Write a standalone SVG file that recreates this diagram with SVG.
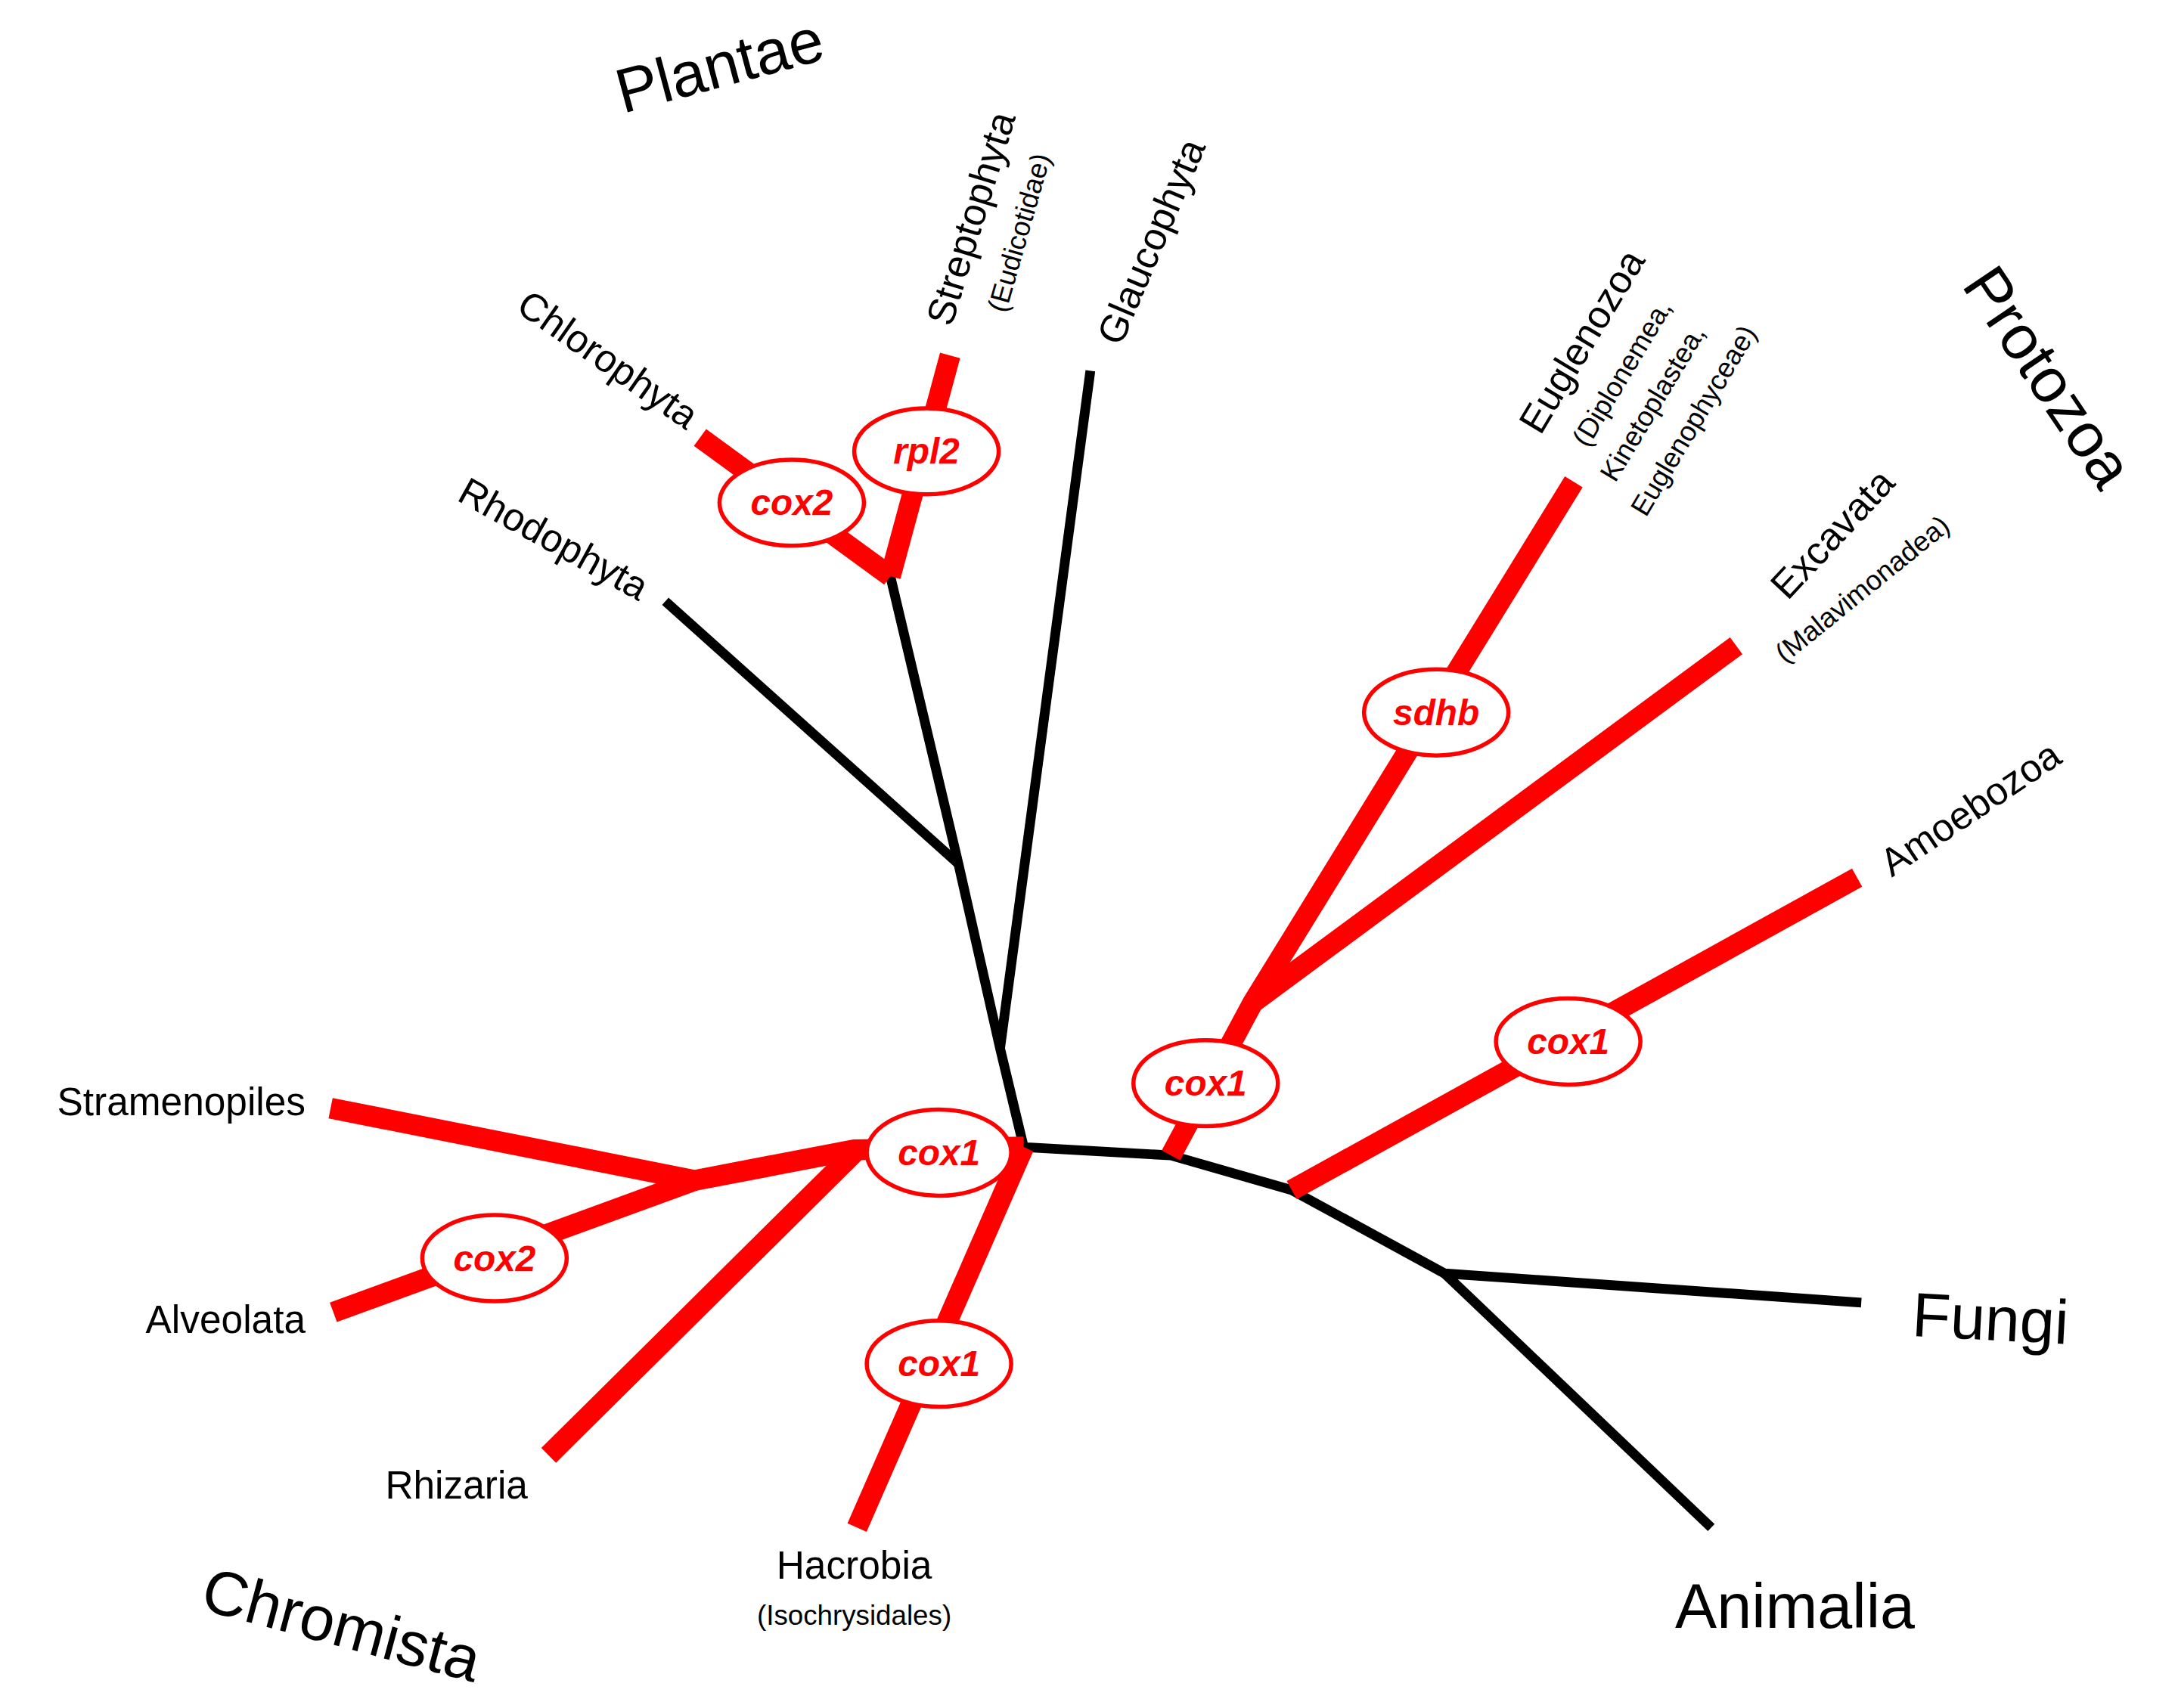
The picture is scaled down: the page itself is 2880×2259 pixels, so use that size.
<svg xmlns="http://www.w3.org/2000/svg" width="2880" height="2259" viewBox="0 0 2880 2259">
<style>
.k{stroke:#000;stroke-width:7;fill:none;stroke-linejoin:round}
.r{stroke:#f00;stroke-width:15;fill:none;stroke-linejoin:round}
.e{fill:#fff;stroke:#f00;stroke-width:3}
.g{font-family:"Liberation Sans",Arial,sans-serif;font-weight:bold;font-style:italic;font-size:26px;fill:#f00;text-anchor:middle}
.t{font-family:"Liberation Sans",Arial,sans-serif;fill:#000;font-size:28px}
.s{font-family:"Liberation Sans",Arial,sans-serif;fill:#000;font-size:20px}
.b{font-family:"Liberation Sans",Arial,sans-serif;fill:#000;font-size:45px}
</style>
<rect width="2880" height="2259" fill="#fff"/>
<g transform="scale(1.8367)">
<g id="connectors">
<polyline class="k" points="479,433 690,622"/>
<polyline class="k" points="641,415 690,622 720,755 737,826 843,832 930,857 1040,917 1340,938"/>
<polyline class="k" points="785,267 720,755"/>
<polyline class="k" points="1040,917 1232,1100"/>
<polyline class="r" points="684,256 641,415"/>
<polyline class="r" stroke-width="12" points="504,315 641,415"/>
<polyline class="r" points="843,832 902,722 1133,347"/>
<polyline class="r" points="902,722 1250,465"/>
<polyline class="r" points="930,857 1337,632"/>
<polyline class="r" points="238,798 500,850 615,828 737,826"/>
<polyline class="r" points="240,945 500,850"/>
<polyline class="r" points="395,1048 615,830"/>
<polyline class="r" points="737,826 617,1100"/>
</g>
<g id="m-rpl2"><ellipse class="e" cx="667" cy="325" rx="52" ry="31"/><text class="g" x="667" y="334">rpl2</text></g>
<g id="m-cox2a"><ellipse class="e" cx="570" cy="362" rx="52" ry="31"/><text class="g" x="570" y="371">cox2</text></g>
<g id="m-sdhb"><ellipse class="e" cx="1034" cy="513" rx="52" ry="31"/><text class="g" x="1034" y="522">sdhb</text></g>
<g id="m-cox1a"><ellipse class="e" cx="868" cy="780" rx="52" ry="31"/><text class="g" x="868" y="789">cox1</text></g>
<g id="m-cox1b"><ellipse class="e" cx="1129" cy="750" rx="52" ry="31"/><text class="g" x="1129" y="759">cox1</text></g>
<g id="m-cox1c"><ellipse class="e" cx="676" cy="830" rx="52" ry="31"/><text class="g" x="676" y="839">cox1</text></g>
<g id="m-cox1d"><ellipse class="e" cx="676" cy="982" rx="52" ry="31"/><text class="g" x="676" y="991">cox1</text></g>
<g id="m-cox2b"><ellipse class="e" cx="356" cy="906" rx="52" ry="31"/><text class="g" x="356" y="915">cox2</text></g>
<g id="labels">
<text class="b" text-anchor="middle" transform="translate(522,62) rotate(-15)">Plantae</text>
<text class="b" text-anchor="middle" transform="translate(242,1185) rotate(15)">Chromista</text>
<text class="b" text-anchor="middle" transform="translate(1462,280) rotate(56)">Protozoa</text>
<text class="b" transform="translate(1376,962) rotate(3)">Fungi</text>
<text class="b" x="1206" y="1172">Animalia</text>
<text class="t" text-anchor="end" x="220" y="803">Stramenopiles</text>
<text class="t" text-anchor="end" x="220" y="960">Alveolata</text>
<text class="t" text-anchor="end" x="380" y="1079">Rhizaria</text>
<text class="t" text-anchor="middle" x="615" y="1137">Hacrobia</text>
<text class="s" text-anchor="middle" x="615" y="1170">(Isochrysidales)</text>
<text class="t" text-anchor="end" transform="translate(494,310) rotate(35)">Chlorophyta</text>
<text class="t" text-anchor="end" transform="translate(460,433) rotate(29)">Rhodophyta</text>
<text class="t" transform="translate(685,236) rotate(-73)">Streptophyta</text>
<text class="s" transform="translate(724,226) rotate(-74)">(Eudicotidae)</text>
<text class="t" transform="translate(807,250) rotate(-67)">Glaucophyta</text>
<text class="t" transform="translate(1109,314) rotate(-59)">Euglenozoa</text>
<text class="s" transform="translate(1143,323) rotate(-59)">(Diplonemea,</text>
<text class="s" transform="translate(1163,348) rotate(-59)">Kinetoplastea,</text>
<text class="s" transform="translate(1185,373) rotate(-59)">Euglenophyceae)</text>
<text class="t" transform="translate(1287,433) rotate(-47)">Excavata</text>
<text class="s" transform="translate(1285,478) rotate(-39)">(Malavimonadea)</text>
<text class="t" transform="translate(1362,632) rotate(-34)">Amoebozoa</text>
</g>
</g>
</svg>
